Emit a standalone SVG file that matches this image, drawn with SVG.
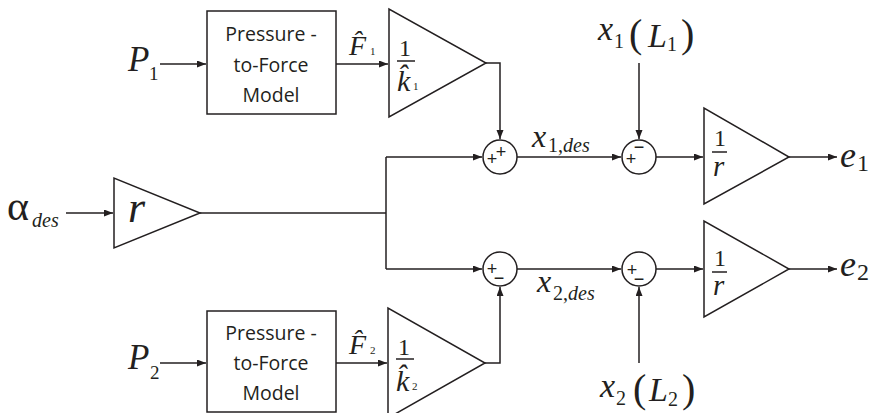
<svg xmlns="http://www.w3.org/2000/svg" width="869" height="413" viewBox="0 0 869 413">
<style>
.ln{fill:none;stroke:#231f20;stroke-width:1.5}
.sh{fill:#fff;stroke:#231f20;stroke-width:1.5}
.bx{font-family:"Open Sans","Noto Sans",sans-serif;font-size:19.5px;fill:#231f20;text-anchor:middle}
.m{font-family:"Liberation Serif","Times New Roman",serif;fill:#231f20}
.i{font-style:italic}
.sg{font-family:"Liberation Sans",Arial,sans-serif;font-size:18px;fill:#231f20;text-anchor:middle}
</style>
<defs>
<marker id="arr" markerUnits="userSpaceOnUse" markerWidth="10" markerHeight="8" refX="9" refY="3.5" orient="auto">
<path d="M0,0 L9,3.5 L0,7 z" fill="#231f20"/>
</marker>
</defs>
<rect width="869" height="413" fill="#fff"/>
<g id="connectors">
<path class="ln" d="M160,64 H206" marker-end="url(#arr)"/>
<path class="ln" d="M336,64 H388" marker-end="url(#arr)"/>
<path class="ln" d="M486,63 H500 V139" marker-end="url(#arr)"/>
<path class="ln" d="M66,213 H113" marker-end="url(#arr)"/>
<path class="ln" d="M200,213 H386"/>
<path class="ln" d="M386,157 V269"/>
<path class="ln" d="M386,157 H482" marker-end="url(#arr)"/>
<path class="ln" d="M386,269 H482" marker-end="url(#arr)"/>
<path class="ln" d="M517,157 H621" marker-end="url(#arr)"/>
<path class="ln" d="M656,157 H703" marker-end="url(#arr)"/>
<path class="ln" d="M789,157 H837" marker-end="url(#arr)"/>
<path class="ln" d="M639,63 V139" marker-end="url(#arr)"/>
<path class="ln" d="M517,269 H621" marker-end="url(#arr)"/>
<path class="ln" d="M656,269 H703" marker-end="url(#arr)"/>
<path class="ln" d="M789,269 H837" marker-end="url(#arr)"/>
<path class="ln" d="M639,363 V287" marker-end="url(#arr)"/>
<path class="ln" d="M160,363 H206" marker-end="url(#arr)"/>
<path class="ln" d="M336,363 H387" marker-end="url(#arr)"/>
<path class="ln" d="M485,363 H500 V287" marker-end="url(#arr)"/>
</g>
<g id="P1"><text class="m i" x="128" y="71" font-size="35">P</text><text class="m" x="149" y="80" font-size="19">1</text></g>
<g id="P2"><text class="m i" x="128" y="369" font-size="35">P</text><text class="m" x="150" y="379" font-size="19">2</text></g>
<g id="box1"><rect class="sh" x="207" y="11" width="129" height="103"/>
<text class="bx" x="271" y="41">Pressure -</text><text class="bx" x="271" y="72">to-Force</text><text class="bx" x="271" y="102">Model</text></g>
<g id="box2"><rect class="sh" x="207" y="311" width="129" height="101"/>
<text class="bx" x="271" y="340">Pressure -</text><text class="bx" x="271" y="370">to-Force</text><text class="bx" x="271" y="400">Model</text></g>
<g id="F1hat"><text class="m i" x="349" y="55" font-size="28">F&#x302;</text><text class="m" x="370" y="55" font-size="11">1</text></g>
<g id="F2hat"><text class="m i" x="349" y="354" font-size="28">F&#x302;</text><text class="m" x="370" y="354" font-size="11">2</text></g>
<g id="gain1"><polygon class="sh" points="389,9 389,117 486,63"/>
<text class="m" x="399" y="56" font-size="24">1</text><line class="ln" x1="397" y1="61" x2="415" y2="61" stroke-width="1"/>
<text class="m i" x="397" y="91" font-size="30">k&#x302;</text><text class="m" x="413" y="90" font-size="11">1</text></g>
<g id="gain2"><polygon class="sh" points="388,308 388,418 485,363"/>
<text class="m" x="398" y="355" font-size="24">1</text><line class="ln" x1="396" y1="359" x2="414" y2="359" stroke-width="1"/>
<text class="m i" x="396" y="391" font-size="30">k&#x302;</text><text class="m" x="412" y="390" font-size="11">2</text></g>
<g id="alpha"><text class="m" x="7" y="220" font-size="42">α</text><text class="m i" x="32" y="227" font-size="20">des</text></g>
<g id="gainr"><polygon class="sh" points="114,178 114,248 200,213"/><text class="m i" x="128" y="222" font-size="44">r</text></g>
<g id="sum1"><circle class="sh" cx="500" cy="157" r="17"/><text class="sg" x="492" y="165">+</text><text class="sg" x="501" y="158">+</text></g>
<g id="sum2"><circle class="sh" cx="639" cy="157" r="17"/><text class="sg" x="639" y="153">−</text><text class="sg" x="631" y="165">+</text></g>
<g id="sum3"><circle class="sh" cx="500" cy="269" r="17"/><text class="sg" x="492" y="275">+</text><text class="sg" x="499" y="284">−</text></g>
<g id="sum4"><circle class="sh" cx="639" cy="269" r="17"/><text class="sg" x="632" y="276">+</text><text class="sg" x="639" y="285">−</text></g>
<g id="gaininv1"><polygon class="sh" points="704,108 704,204 789,157"/>
<text class="m" x="714" y="146" font-size="24">1</text><line class="ln" x1="712" y1="152" x2="727" y2="152" stroke-width="1"/>
<text class="m i" x="713" y="176" font-size="29">r</text></g>
<g id="gaininv2"><polygon class="sh" points="704,221 704,317 789,269"/>
<text class="m" x="714" y="266" font-size="24">1</text><line class="ln" x1="712" y1="272" x2="727" y2="272" stroke-width="1"/>
<text class="m i" x="713" y="295" font-size="29">r</text></g>
<g id="e1"><text class="m i" x="840" y="167" font-size="36">e</text><text class="m" x="857" y="171" font-size="24">1</text></g>
<g id="e2"><text class="m i" x="840" y="276" font-size="36">e</text><text class="m" x="857" y="280" font-size="24">2</text></g>
<g id="x1des"><text class="m i" x="532" y="147" font-size="32">x</text><text class="m" x="548" y="152" font-size="20">1,<tspan class="i">des</tspan></text></g>
<g id="x2des"><text class="m i" x="537" y="292" font-size="32">x</text><text class="m" x="553" y="300" font-size="20">2,<tspan class="i">des</tspan></text></g>
<g id="x1L1"><text class="m i" x="598" y="40" font-size="34">x</text><text class="m" x="614" y="48" font-size="20">1</text>
<text class="m" x="629" y="47" font-size="40">(</text><text class="m i" x="648" y="47" font-size="34">L</text><text class="m" x="667" y="51" font-size="20">1</text><text class="m" x="681" y="47" font-size="40">)</text></g>
<g id="x2L2"><text class="m i" x="600" y="397" font-size="34">x</text><text class="m" x="616" y="405" font-size="20">2</text>
<text class="m" x="633" y="402" font-size="40">(</text><text class="m i" x="649" y="401" font-size="34">L</text><text class="m" x="668" y="406" font-size="20">2</text><text class="m" x="682" y="402" font-size="40">)</text></g>
</svg>
